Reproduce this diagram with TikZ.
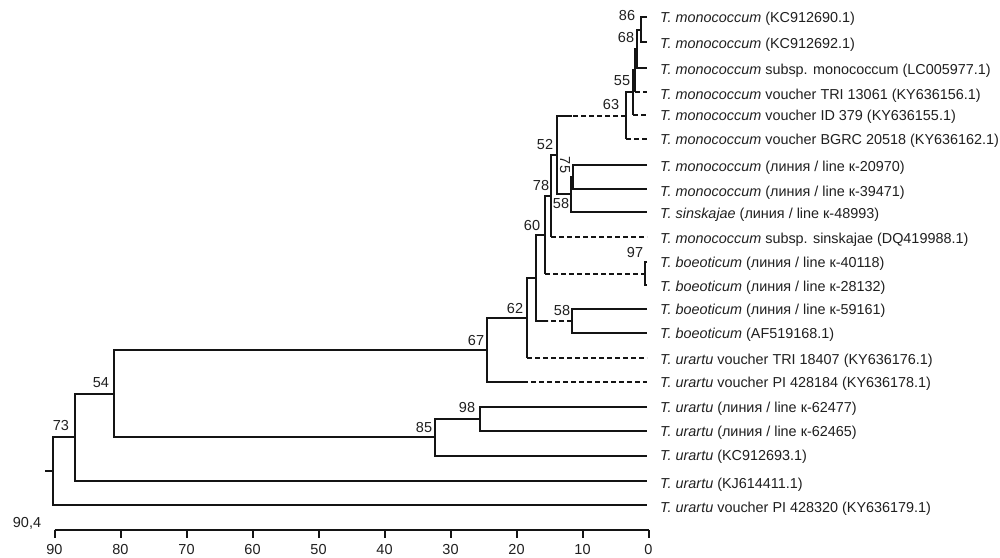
\documentclass[tikz,border=0pt]{standalone}
\usepackage{fontspec}
\setmainfont{Liberation Sans}
\begin{document}
\begin{tikzpicture}[x=1pt,y=-1pt,
  br/.style={line width=2pt, draw=black!92},
  dsh/.style={br, dash pattern=on 5pt off 3pt},
  leaf/.style={anchor=base west, inner sep=0pt, font=\fontsize{14.4}{16}\selectfont, text=black!88},
  bs/.style={inner sep=0pt, font=\fontsize{14.5}{16}\selectfont, text=black!88}]
\useasboundingbox (0,0) rectangle (1000,557);
% leaf tips
\coordinate (t1) at (647,17);
\coordinate (t2) at (647,42);
\coordinate (t3) at (647,68);
\coordinate (t4) at (647,92);
\coordinate (t5) at (647,115);
\coordinate (t6) at (647,139);
\coordinate (t7) at (647,165);
\coordinate (t8) at (647,189);
\coordinate (t9) at (647,212);
\coordinate (t10) at (647,237);
\coordinate (t11) at (647,262);
\coordinate (t12) at (647,285);
\coordinate (t13) at (647,309);
\coordinate (t14) at (647,333);
\coordinate (t15) at (647,358);
\coordinate (t16) at (647,382);
\coordinate (t17) at (647,407);
\coordinate (t18) at (647,431);
\coordinate (t19) at (647,456);
\coordinate (t20) at (647,481);
\coordinate (t21) at (647,505);
% internal nodes
\coordinate (a86) at (641,30);
\coordinate (a68) at (637,49);
\coordinate (a55b) at (635,70);
\coordinate (a55) at (633,92);
\coordinate (a63) at (626,116);
\coordinate (a75) at (573,177);
\coordinate (a58u) at (571,194);
\coordinate (a52) at (557,155);
\coordinate (a78) at (551,196);
\coordinate (a97) at (645,274);
\coordinate (a60) at (545,235);
\coordinate (a58l) at (572,321);
\coordinate (aX) at (536,278);
\coordinate (a62) at (527,318);
\coordinate (a67) at (487,350);
\coordinate (a98) at (480,419);
\coordinate (a85) at (435,437);
\coordinate (a54) at (114,394);
\coordinate (a73) at (75,437);
\coordinate (root) at (53,471);
\coordinate (stub) at (45,471);
\coordinate (s63) at (572,116);
\coordinate (s58) at (548,321);
\coordinate (s16) at (523,382);
% branches
\draw[br] (t1) -| (a86) |- (t2);
\draw[br] (a86) -| (a68) |- (t3);
\draw[br] (a68) -| (a55b) -- (a55b |- t4);
\draw[dsh] (a55b |- t4) -- (t4);
\draw[br] (a55b) -| (a55) -- (a55 |- t5);
\draw[dsh] (a55 |- t5) -- (t5);
\draw[br] (a55) -| (a63) -- (a63 |- t6);
\draw[dsh] (a63 |- t6) -- (t6);
\draw[br] (t7) -| (a75) |- (t8);
\draw[br] (a75) -| (a58u) |- (t9);
\draw[dsh] (a63) -- (s63);
\draw[br] (s63) -| (a52) |- (a58u);
\draw[br] (a52) -| (a78) -- (a78 |- t10);
\draw[dsh] (a78 |- t10) -- (t10);
\draw[br] (t11) -| (a97) |- (t12);
\draw[br] (a78) -| (a60) -- (a60 |- a97);
\draw[dsh] (a60 |- a97) -- (a97);
\draw[br] (t13) -| (a58l) |- (t14);
\draw[dsh] (a58l) -- (s58);
\draw[br] (a60) -| (aX) |- (s58);
\draw[br] (aX) -| (a62) -- (a62 |- t15);
\draw[dsh] (a62 |- t15) -- (t15);
\draw[br] (a62) -| (a67) |- (s16);
\draw[dsh] (s16) -- (t16);
\draw[br] (t17) -| (a98) |- (t18);
\draw[br] (a98) -| (a85) |- (t19);
\draw[br] (a67) -| (a54) |- (a85);
\draw[br] (a54) -| (a73) |- (t20);
\draw[br] (a73) -| (root) |- (t21);
\draw[br] (stub) -- (root);
% bootstrap values
\node[bs] (b86) at (627,16) {86};
\node[bs] (b68) at (626,38) {68};
\node[bs] (b55) at (622,81) {55};
\node[bs] (b63) at (611,105) {63};
\node[bs] (b52) at (545,145) {52};
\node[bs,rotate=-90] (b75) at (565,165) {75};
\node[bs] (b58u) at (561,204) {58};
\node[bs] (b78) at (541,186) {78};
\node[bs] (b60) at (532,226) {60};
\node[bs] (b97) at (635,253) {97};
\node[bs] (b58l) at (562,311) {58};
\node[bs] (b62) at (515,309) {62};
\node[bs] (b67) at (476,341) {67};
\node[bs] (b98) at (467,408) {98};
\node[bs] (b85) at (424,428) {85};
\node[bs] (b54) at (101,383) {54};
\node[bs] (b73) at (61,425) {73};
\node[bs] (b904) at (27,523) {90,4};
% leaf labels
\node[leaf] (l1) at (660,22) {\textit{T. monococcum} (KC912690.1)};
\node[leaf] (l2) at (660,48) {\textit{T. monococcum} (KC912692.1)};
\node[leaf] (l3) at (660,74) {\textit{T. monococcum} subsp. monococcum (LC005977.1)};
\node[leaf] (l4) at (660,99) {\textit{T. monococcum} voucher TRI 13061 (KY636156.1)};
\node[leaf] (l5) at (660,120) {\textit{T. monococcum} voucher ID 379 (KY636155.1)};
\node[leaf] (l6) at (660,144) {\textit{T. monococcum} voucher BGRC 20518 (KY636162.1)};
\node[leaf] (l7) at (660,171) {\textit{T. monococcum} (линия / line к-20970)};
\node[leaf] (l8) at (660,196) {\textit{T. monococcum} (линия / line к-39471)};
\node[leaf] (l9) at (660,218) {\textit{T. sinskajae} (линия / line к-48993)};
\node[leaf] (l10) at (660,243) {\textit{T. monococcum} subsp. sinskajae (DQ419988.1)};
\node[leaf] (l11) at (660,267) {\textit{T. boeoticum} (линия / line к-40118)};
\node[leaf] (l12) at (660,291) {\textit{T. boeoticum} (линия / line к-28132)};
\node[leaf] (l13) at (660,314) {\textit{T. boeoticum} (линия / line к-59161)};
\node[leaf] (l14) at (660,338) {\textit{T. boeoticum} (AF519168.1)};
\node[leaf] (l15) at (660,364) {\textit{T. urartu} voucher TRI 18407 (KY636176.1)};
\node[leaf] (l16) at (660,387) {\textit{T. urartu} voucher PI 428184 (KY636178.1)};
\node[leaf] (l17) at (660,412) {\textit{T. urartu} (линия / line к-62477)};
\node[leaf] (l18) at (660,436) {\textit{T. urartu} (линия / line к-62465)};
\node[leaf] (l19) at (660,460) {\textit{T. urartu} (KC912693.1)};
\node[leaf] (l20) at (660,488) {\textit{T. urartu} (KJ614411.1)};
\node[leaf] (l21) at (660,512) {\textit{T. urartu} voucher PI 428320 (KY636179.1)};
% axis
\coordinate (x0) at (648.5,530);
\coordinate (x90) at (54.5,530);
\draw[br] (x90) -- (x0);
\foreach \d in {0,10,...,90} {
  \coordinate (k\d) at ({648.5-6.6*\d},530);
  \draw[br] (k\d) -- ++(0,8);
  \node[bs] (n\d) at ({648.5-6.6*\d},549.5) {\d};
}
\end{tikzpicture}
\end{document}
